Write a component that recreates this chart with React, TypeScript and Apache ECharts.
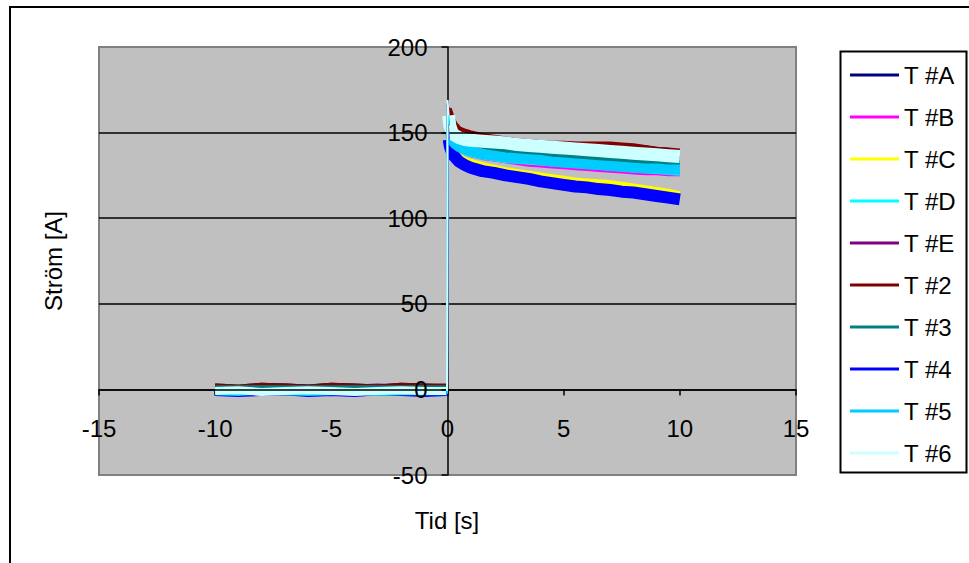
import React, { useEffect, useRef } from "react";
import * as echarts from "echarts";

// Time axis (s): pre-trigger samples, then post-trigger samples
const TIME = [
  -10, -9, -8, -7, -6, -5, -4, -3, -2, -1, -0.02,
  0, 0.05, 0.1, 0.2, 0.3, 0.5, 0.75, 1, 1.5, 2, 2.5, 3, 3.5, 4, 4.5, 5, 5.5, 6, 6.5, 7, 7.5, 8, 8.5, 9, 9.5, 10,
];
const PRE_COUNT = 11;

const NAMES = ["T #A", "T #B", "T #C", "T #D", "T #E", "T #2", "T #3", "T #4", "T #5", "T #6"];

const T_A = [2.5, 2, 3, 2.5, 2, 3, 2.5, 2, 3, 2.5, 2,
  166, 164, 161, 158, 155, 151, 149, 148, 147, 146.5, 146, 145.5, 145, 144.5, 144, 143.5, 143.5, 143, 143, 142.5, 142.5, 142, 141.5, 140.5, 140, 139];
const T_B = [1, 1.5, 0.5, 1, 1.5, 1, 0.5, 1, 1.5, 1, 1,
  162, 155, 149, 145, 143, 140.5, 138.5, 137, 135.5, 134.5, 133.5, 132.5, 131.5, 131, 130.5, 130, 129.5, 129, 128.5, 128, 127.5, 127, 126.5, 126.5, 126, 126];
const T_C = [1.5, 2, 1.5, 1, 2, 1.5, 1, 2, 1.5, 1, 1.5,
  163, 150, 145, 141, 139, 136, 134, 133, 131, 129.5, 128, 127, 126, 125, 124, 123, 122, 121.5, 121, 120.5, 119.5, 118.5, 117.5, 116.5, 115.5, 114];
const T_D = [-1, -1.5, -1, -0.5, -1, -1.5, -1, -0.5, -1, -1.5, -1,
  164, 155, 149, 144.5, 142.5, 140, 138.5, 137.5, 136, 135, 134, 133.5, 133, 132.5, 132, 131.5, 131, 130.5, 130, 129.5, 129, 128.5, 128, 127.5, 127, 126.5];
const T_E = [2, 1.5, 2, 2.5, 2, 1.5, 2, 2.5, 2, 1.5, 2,
  165, 160, 157, 154, 152, 149, 147.5, 146.5, 145, 144, 143.5, 143, 142.5, 142, 141, 140.5, 140, 139.5, 139, 138.5, 138, 137.5, 137, 136.5, 136, 135.5];
const T_2 = [2.5, 2, 3, 2.5, 2, 3, 2.5, 2, 3, 2.5, 2.5,
  167, 164, 162, 158, 155, 152, 150.5, 149.5, 148, 147, 146, 145, 144.5, 144, 143.5, 143.5, 143, 143, 143, 143, 142.5, 142, 141, 140, 139.5, 139];
const T_3 = [1.5, 1.5, 1.5, 1.5, 1.5, 1.5, 1.5, 1.5, 1.5, 1.5, 1.5,
  160, 154, 150, 148, 147, 146, 145, 144, 142.5, 141, 140, 139, 138.5, 138, 137.5, 137, 136.5, 136, 135.5, 135, 134.5, 134, 133.5, 133, 132.5, 132];
const T_4 = [-3, -3.5, -3, -2.5, -3.5, -3, -3.5, -2.5, -3, -3.5, -3,
  160, 146, 142, 138, 136, 133, 131, 129.5, 127.5, 126.5, 125, 124, 123, 121.5, 120.5, 119.5, 118.5, 118, 117, 116.5, 115.5, 115, 114, 113, 112, 111];
const T_5 = [-2.5, -3, -2, -2.5, -3, -2.5, -2, -3, -2.5, -2.5, -2.5,
  165, 155, 150, 145.5, 143.5, 141.5, 140, 139, 137.5, 136.5, 135.5, 135, 134.5, 134, 133, 132.5, 132, 131.5, 131, 130.5, 130, 129.5, 129, 129, 128.5, 128.5];
const T_6 = [-1, -0.5, -1.5, -1, -0.5, -1, -1.5, -1, -0.5, -1, -1,
  169, 160, 154, 150, 148.5, 147, 146, 145.5, 145, 144.5, 144, 143, 142.5, 142, 141.5, 141, 140.5, 140, 139.5, 139, 138.5, 138, 137.5, 137, 136.5, 136];

const VALUES = [T_A, T_B, T_C, T_D, T_E, T_2, T_3, T_4, T_5, T_6];

const X_MIN = -15, X_MAX = 15, X_STEP = 5;
const Y_MIN = -50, Y_MAX = 200, Y_STEP = 50;

// layout & styles
const GRID = { left: 99, top: 47, width: 697, height: 428 };
const COLORS = ["#000080", "#FF00FF", "#FFFF00", "#00FFFF", "#800080", "#800000", "#008080", "#0000FF", "#00CCFF", "#CCFFFF"];
const PRE_WIDTHS = [3, 3, 3, 3, 3, 3, 3, 3, 3, 8];
const POST_WIDTHS = [4, 5, 6, 6, 4, 6, 7, 12, 10, 13];
const FONT = "'Liberation Sans', Arial, sans-serif";

const pts = (vals: number[], from: number, to: number) =>
  TIME.slice(from, to).map((t, j) => [t, vals[from + j]]);

export default function App() {
  const ref = useRef<HTMLDivElement>(null);
  useEffect(() => {
    if (!ref.current) return;
    const chart = echarts.init(ref.current, undefined, { renderer: "svg" });
    const base = { type: "line", showSymbol: false, symbol: "none", silent: true, z: 2 };
    const series: any[] = [];
    // pre-trigger segments
    VALUES.forEach((vals, k) =>
      series.push({
        ...base,
        name: NAMES[k],
        color: COLORS[k],
        data: pts(vals, 0, PRE_COUNT),
        lineStyle: { color: COLORS[k], width: PRE_WIDTHS[k], join: "bevel" },
      })
    );
    // post-trigger bands (from the sample after the peak)
    VALUES.forEach((vals, k) =>
      series.push({
        ...base,
        name: NAMES[k],
        color: COLORS[k],
        data: pts(vals, PRE_COUNT + 1, TIME.length),
        lineStyle: { color: COLORS[k], width: POST_WIDTHS[k], join: "bevel" },
      })
    );
    // trigger jumps (thin): last pre sample -> peak -> next sample
    VALUES.forEach((vals, k) =>
      series.push({
        ...base,
        z: 5,
        name: NAMES[k],
        color: COLORS[k],
        data: pts(vals, PRE_COUNT - 1, PRE_COUNT + 2),
        lineStyle: { color: COLORS[k], width: 2 },
      })
    );

    const xOffset = -((0 - Y_MIN) / (Y_MAX - Y_MIN)) * GRID.height;
    const yOffset = -((0 - X_MIN) / (X_MAX - X_MIN)) * GRID.width;

    chart.setOption({
      animation: false,
      textStyle: { fontFamily: FONT },
      grid: {
        ...GRID,
        show: true,
        backgroundColor: "#C0C0C0",
        borderColor: "#808080",
        borderWidth: 2,
      },
      xAxis: {
        type: "value",
        min: X_MIN,
        max: X_MAX,
        interval: X_STEP,
        offset: xOffset,
        z: 0,
        axisLine: { onZero: false, lineStyle: { color: "#000", width: 1.5 } },
        axisTick: { show: true, length: 6, lineStyle: { color: "#000", width: 1.5 } },
        axisLabel: { color: "#000", fontSize: 24, fontFamily: FONT, margin: 27, hideOverlap: false },
        splitLine: { show: false },
      },
      yAxis: {
        type: "value",
        min: Y_MIN,
        max: Y_MAX,
        interval: Y_STEP,
        offset: yOffset,
        z: 3,
        axisLine: { show: true, onZero: false, lineStyle: { color: "#000", width: 1.5 } },
        axisTick: { show: true, length: 6, lineStyle: { color: "#000", width: 1.5 } },
        axisLabel: { color: "#000", fontSize: 24, fontFamily: FONT, margin: 20, hideOverlap: false, padding: [5, 0, 0, 0] },
        splitLine: { show: true, showMinLine: false, showMaxLine: false, lineStyle: { color: "#000", width: 1.5 } },
      },
      legend: {
        data: NAMES,
        orient: "vertical",
        left: 850,
        top: 63,
        padding: 0,
        itemGap: 18,
        itemWidth: 49,
        itemHeight: 3,
        icon: "rect",
        textStyle: { color: "#000", fontSize: 24, lineHeight: 24, fontFamily: FONT },
        selectedMode: false,
      },
      graphic: [
        {
          type: "rect",
          shape: { x: 10, y: 7, width: 990, height: 600 },
          style: { fill: "none", stroke: "#000", lineWidth: 2 },
          silent: true,
        },
        {
          type: "rect",
          shape: { x: 840.5, y: 51.5, width: 126, height: 421 },
          style: { fill: "none", stroke: "#000", lineWidth: 2 },
          silent: true,
        },
        {
          type: "text",
          x: 447,
          y: 520,
          style: { text: "Tid [s]", fill: "#000", fontSize: 24, fontFamily: FONT, align: "center", verticalAlign: "middle" },
        },
        {
          type: "text",
          x: 53,
          y: 261,
          rotation: Math.PI / 2,
          style: { text: "Ström [A]", fill: "#000", fontSize: 24, fontFamily: FONT, align: "center", verticalAlign: "middle" },
        },
      ],
      series,
    });
    return () => chart.dispose();
  }, []);
  return (
    <div
      ref={ref}
      style={{ position: "fixed", left: 0, top: 0, width: 969, height: 563, background: "#fff" }}
    />
  );
}
